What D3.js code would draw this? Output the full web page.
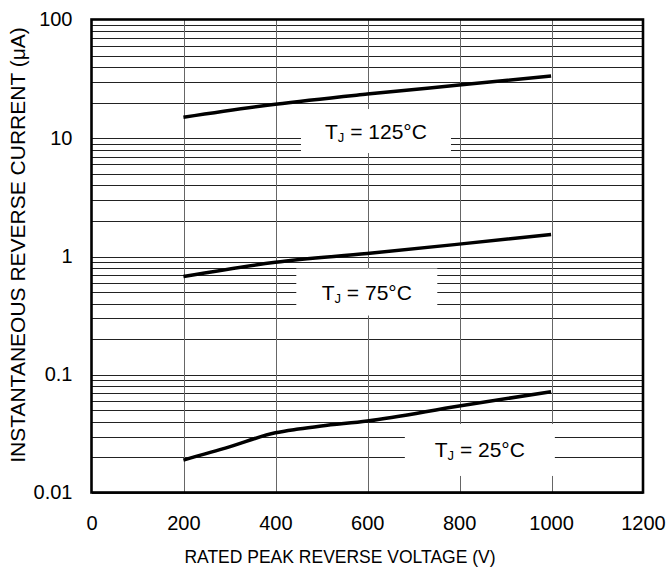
<!DOCTYPE html>
<html>
<head>
<meta charset="utf-8">
<script src="https://cdn.jsdelivr.net/npm/d3@7"></script>
<style>
  html, body { margin: 0; padding: 0; background: #fff; }
  svg { display: block; font-family: 'Liberation Sans', Arial, sans-serif; }
</style>
</head>
<body>
<svg id="chart" width="669" height="569"></svg>
<script>
// values
const voltage125 = [200, 400, 600, 800, 1000]
const current125 = [14.9, 19.2, 23.4, 27.9, 33.3]
const voltage75 = [200, 400, 600, 800, 1000]
const current75 = [0.67, 0.885, 1.05, 1.26, 1.52]
const voltage25 = [200, 300, 400, 450, 500, 600, 800, 1000]
const current25 = [0.0188, 0.0243, 0.032, 0.0344, 0.0365, 0.0402, 0.0539, 0.0712]
const xTicks = [0, 200, 400, 600, 800, 1000, 1200]
const yTicks = [0.01, 0.1, 1, 10, 100]
const yTickLabels = ['0.01', '0.1', '1', '10', '100']
// label centres in data units, box size in px
const labels = [
  { temp: '125', x: 619, y: 11.4, w: 150, h: 44 },
  { temp: '75', x: 599, y: 0.496, w: 141, h: 47 },
  { temp: '25', x: 845, y: 0.0229, w: 150, h: 52 }
]

const margin = { left: 91.5, top: 19.5, right: 26, bottom: 76.5 }
const width = 669 - margin.left - margin.right
const height = 569 - margin.top - margin.bottom

const svg = d3.select('#chart')
const g = svg.append('g').attr('transform', `translate(${margin.left}, ${margin.top})`)

const x = d3.scaleLinear().domain([0, 1200]).range([0, width])
const y = d3.scaleLog().domain([0.01, 100]).range([height, 0])

// minor grid values
const gridY = []
for (let d = 0.01; d < 100; d *= 10) {
  for (let k = 1; k < 10; k++) gridY.push(+(d * k).toPrecision(3))
}

const grid = g.append('g').attr('shape-rendering', 'crispEdges')
grid.selectAll('line.h').data(gridY).enter().append('line')
  .attr('class', 'h')
  .attr('x1', 0).attr('x2', width)
  .attr('y1', d => Math.round(y(d)) + 0.5).attr('y2', d => Math.round(y(d)) + 0.5)
  .attr('stroke', '#222').attr('stroke-width', 1)
grid.selectAll('line.v').data(xTicks.slice(1, -1)).enter().append('line')
  .attr('class', 'v')
  .attr('x1', d => Math.round(x(d)) + 0.5).attr('x2', d => Math.round(x(d)) + 0.5)
  .attr('y1', 0).attr('y2', height)
  .attr('stroke', '#666').attr('stroke-width', 1)

// label boxes knock out the grid
const labelG = g.append('g')
labels.forEach(l => {
  const cx = x(l.x)
  const cy = y(l.y)
  labelG.append('rect')
    .attr('x', cx - l.w / 2).attr('y', cy - l.h / 2)
    .attr('width', l.w).attr('height', l.h)
    .attr('fill', '#fff')
  const t = labelG.append('text')
    .attr('x', cx).attr('y', cy + 7.5)
    .attr('text-anchor', 'middle')
    .attr('font-size', 21)
    .attr('fill', '#000')
  t.append('tspan').text('T')
  t.append('tspan').attr('font-size', 13).attr('dy', 3).text('J')
  t.append('tspan').attr('dy', -3).text(` = ${l.temp}°C`)
})

// curves
const line = d3.line()
  .x(d => x(d[0]))
  .y(d => y(d[1]))
  .curve(d3.curveMonotoneX)
const series = [
  d3.zip(voltage125, current125),
  d3.zip(voltage75, current75),
  d3.zip(voltage25, current25)
]
g.selectAll('path.curve').data(series).enter().append('path')
  .attr('class', 'curve')
  .attr('d', line)
  .attr('fill', 'none')
  .attr('stroke', '#000')
  .attr('stroke-width', 3.5)
  .attr('stroke-linecap', 'butt')

// frame
g.append('rect')
  .attr('x', 0).attr('y', 0)
  .attr('width', width).attr('height', height)
  .attr('fill', 'none').attr('stroke', '#000').attr('stroke-width', 2.6)

// axes (labels only)
const xAxis = d3.axisBottom(x).tickValues(xTicks).tickFormat(d3.format('d')).tickSize(0).tickPadding(23)
const xg = g.append('g').attr('transform', `translate(0, ${height})`).call(xAxis)
xg.select('.domain').remove()
xg.selectAll('text').attr('font-size', 20).attr('fill', '#000').attr('font-family', null)

const yAxis = d3.axisLeft(y).tickValues(yTicks).tickFormat((d, i) => yTickLabels[i]).tickSize(0).tickPadding(19)
const yg = g.append('g').call(yAxis)
yg.select('.domain').remove()
yg.selectAll('text').attr('font-size', 20).attr('fill', '#000').attr('font-family', null)

svg.append('text')
  .attr('x', 340).attr('y', 563)
  .attr('text-anchor', 'middle')
  .attr('font-size', 17.5)
  .text('RATED PEAK REVERSE VOLTAGE (V)')

svg.append('text')
  .attr('transform', `translate(25, 245) rotate(-90)`)
  .attr('text-anchor', 'middle')
  .attr('font-size', 21)
  .text('INSTANTANEOUS REVERSE CURRENT (μA)')
</script>
</body>
</html>
